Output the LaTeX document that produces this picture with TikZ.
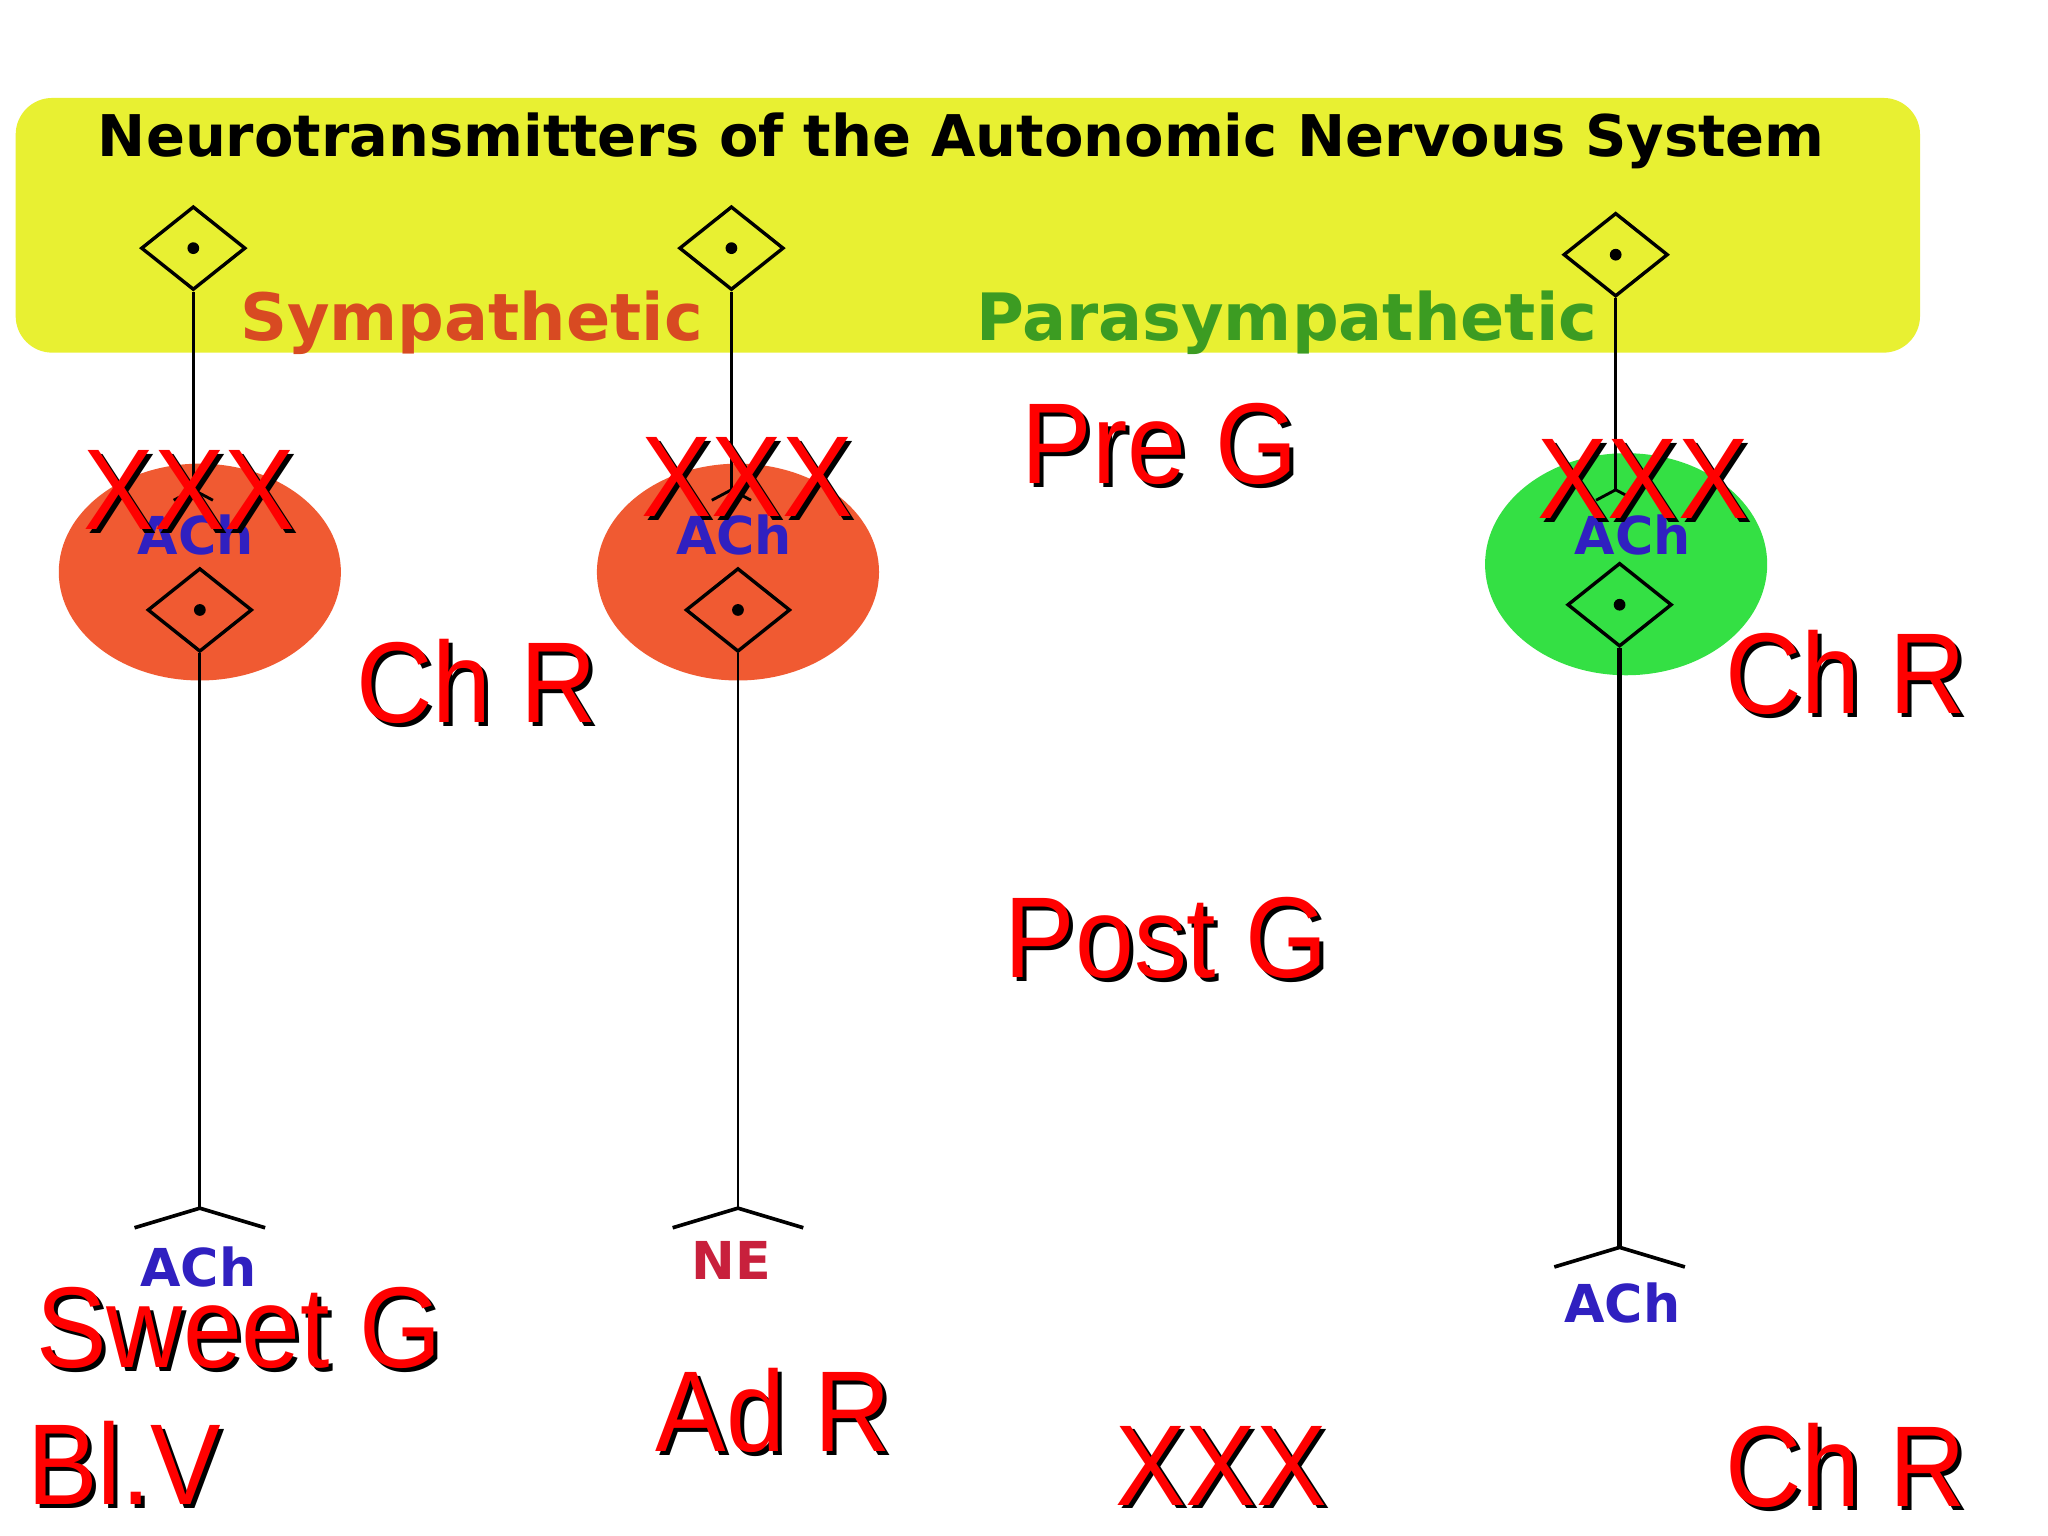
\documentclass[tikz,border=0pt]{standalone}
\usepackage{fontspec}
\setmainfont{Liberation Sans}
\newfontfamily\dvs{DejaVu Sans}
\usetikzlibrary{shapes.geometric,calc}
\definecolor{ylw}{HTML}{E8F032}
\definecolor{org}{HTML}{F05A32}
\definecolor{grn}{HTML}{34E044}
\definecolor{achb}{HTML}{3020C0}
\definecolor{symc}{HTML}{D84A22}
\definecolor{parc}{HTML}{3C9C22}
\definecolor{nec}{HTML}{C8203C}
\begin{document}
\begin{tikzpicture}[x=0.5pt,y=-0.5pt,
  soma/.style={diamond,draw,line width=1.3pt,minimum width=40pt,minimum height=32pt,aspect=1.25,inner sep=0pt,fill=none},
  dot/.style={circle,fill,inner sep=0pt,minimum size=4.5pt},
  ax/.style={line width=1.1pt},
  red/.style={font=\fontsize{44}{44}\selectfont,text=red,inner sep=0pt,xscale=0.92},
  ach/.style={font=\dvs\bfseries\fontsize{20}{20}\selectfont,text=achb,inner sep=0pt}]
\useasboundingbox (0,0) rectangle (1568,1176);
\fill[white] (0,0) rectangle (1568,1176);
\fill[ylw,rounded corners=14pt] (12,75) rectangle (1470,270);
\node[font=\dvs\bfseries\fontsize{22}{22}\selectfont,inner sep=0pt] (title) at (736,108) {Neurotransmitters of the Autonomic Nervous System};
\node[font=\dvs\bfseries\fontsize{25}{25}\selectfont,text=symc,inner sep=0pt] (sym) at (361,247) {Sympathetic};
\node[font=\dvs\bfseries\fontsize{25}{25}\selectfont,text=parc,inner sep=0pt] (par) at (985,247) {Parasympathetic};
\node[ellipse,fill=org,minimum width=108pt,minimum height=83pt] (g1) at (153,438) {};
\node[ellipse,fill=org,minimum width=108pt,minimum height=83pt] (g2) at (565,438) {};
\node[ellipse,fill=grn,minimum width=108pt,minimum height=85pt] (g3) at (1245,432) {};
\node[ach] (a1) at (150,410) {ACh};
\node[ach] (a2) at (562,410) {ACh};
\node[ach] (a3) at (1250,410) {ACh};
\foreach \n/\xa/\ya/\xb/\yb/\ye/\w in {1/148/190/153/467/925/1.1pt,2/560/190/565/467/925/1.1pt,3/1237/195/1240/463/955/2pt}{
  \node[soma] (s\n) at (\xa,\ya) {};
  \node[dot] (d\n) at (\xa,\ya) {};
  \coordinate (t\n) at (\xa,375);
  \draw[ax] (s\n.south) -- (t\n);
  \draw[ax] ($(t\n)+(-15,8)$) -- (t\n) -- ($(t\n)+(15,8)$);
  \node[soma] (p\n) at (\xb,\yb) {};
  \node[dot] (q\n) at (\xb,\yb) {};
  \coordinate (e\n) at (\xb,\ye);
  \draw[line width=\w] (p\n.south) -- (e\n);
  \draw[line width=1.4pt] ($(e\n)+(-50,15)$) -- (e\n) -- ($(e\n)+(50,15)$);
}
\node[ach] (a4) at (152,970) {ACh};
\node[font=\dvs\bfseries\fontsize{20}{20}\selectfont,text=nec,inner sep=0pt] (ne) at (560,965) {NE};
\node[ach] (a5) at (1242,998) {ACh};
\foreach \x/\y/\t [count=\i] in {145/375/XXX,572/365/XXX,1258/367/XXX,888/340/Pre G,365/522/Ch R,1413/515/Ch R,893/718/Post G,183/1017/Sweet G,95/1120/Bl.V,592/1080/Ad R,935/1122/XXX,1413/1122/Ch R}{
  \node[red,text=black] (sh\i) at (\x+3,\y+3) {\t};
  \node[red] (r\i) at (\x,\y) {\t};
}
\end{tikzpicture}
\end{document}
